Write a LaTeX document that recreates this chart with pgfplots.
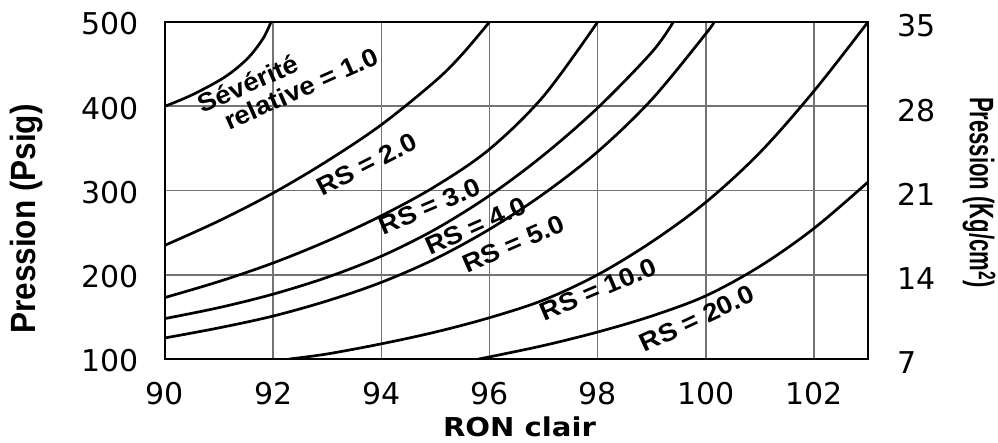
\documentclass[border=0pt]{standalone}
\usepackage{fontspec}
\setmainfont{Liberation Sans}
\newfontfamily\dejavu{DejaVu Sans}
\newfontfamily\ronfont[FakeStretch=1.12]{DejaVu Sans}
\newfontfamily\curvefont[FakeStretch=1.08]{Liberation Sans}
\newfontfamily\labfont[FakeStretch=0.9]{Liberation Sans}
\newfontfamily\rlabfont[FakeStretch=0.65]{Liberation Sans}
\usepackage{pgfplots}
\pgfplotsset{compat=1.18}
\tikzset{lab/.style={font=\curvefont\bfseries\fontsize{25.5}{30}\selectfont, inner sep=0pt},
  curve/.style={black, line width=2.7pt, smooth, tension=0.55, mark=none}}

\pgfplotstableread{
x y
90 400
90.5 413.5
91.1 434.4
91.52 456.3
91.81 480
91.96 500
}\rsone
\pgfplotstableread{
x y
90 235
91 264
92 297
93 335
94 378
95 430
95.5 462
96 500
}\rstwo
\pgfplotstableread{
x y
90 173
91 192
92 214
93 240
94 270
95 305
96 349
97 412
98 500
}\rsthree
\pgfplotstableread{
x y
90 148
91 161
92 177
93 197
94 222
95 254
96 294
97 342
98 398
99 464
99.4 500
}\rsfour
\pgfplotstableread{
x y
90 125
91 137
92 151
93 169
94 191
95 219
96 254
97 296
98 346
99 408
100 486
100.15 500
}\rsfive
\pgfplotstableread{
x y
92.3 100
93 106
94 118
95 132
96 149
97 170
98 200
99 239
100 286
101 345
102 418
103 500
}\rsten
\pgfplotstableread{
x y
95.8 100
96 102.5
97 116
98 132
99 151
100 175
101 210
102 255
103 310
}\rstwenty

\begin{document}
\begin{tikzpicture}
\begin{axis}[
  at={(0pt,0pt)}, anchor=south west,
  scale only axis, width=703pt, height=337pt,
  xmin=90, xmax=103, ymin=100, ymax=500,
  xtick={90,92,...,102}, ytick={100,200,...,500},
  grid=major, major grid style={black!55, line width=1.5pt},
  major tick length=0pt,
  axis line style={line width=1.8pt},
  /pgf/number format/assume math mode=true,
  tick label style={font=\dejavu\fontsize{30}{30}\selectfont, inner sep=0pt},
  yticklabel style={anchor=east, xshift=-26pt, yshift=-2pt},
  xticklabel style={anchor=north, yshift=-23pt},
]
\addplot[curve] table {\rsone};
\addplot[curve] table {\rstwo};
\addplot[curve] table {\rsthree};
\addplot[curve] table {\rsfour};
\addplot[curve] table {\rsfive};
\addplot[curve] table {\rsten};
\addplot[curve] table {\rstwenty};
\node[lab, rotate=24] at (axis cs:91.53,427) {Sévérité};
\node[lab, rotate=24] at (axis cs:92.52,421) {relative = 1.0};
\node[lab, rotate=27] at (axis cs:93.73,331) {RS = 2.0};
\node[lab, rotate=23] at (axis cs:94.90,281) {RS = 3.0};
\node[lab, rotate=24] at (axis cs:95.75,258) {RS = 4.0};
\node[lab, rotate=23.5] at (axis cs:96.44,236.5) {RS = 5.0};
\node[lab, rotate=23] at (axis cs:98.01,182.5) {RS = 10.0};
\node[lab, rotate=25] at (axis cs:99.84,148) {RS = 20.0};
\end{axis}
\begin{axis}[
  at={(0pt,0pt)}, anchor=south west,
  scale only axis, width=703pt, height=337pt,
  xmin=90, xmax=103, ymin=7, ymax=35,
  ytick={7,14,21,28,35},
  axis y line*=right, hide x axis,
  y axis line style={draw=none},
  major tick length=0pt,
  /pgf/number format/assume math mode=true,
  tick label style={font=\dejavu\fontsize{30}{30}\selectfont, inner sep=0pt},
  yticklabel style={anchor=west, xshift=29pt, yshift=-4pt},
]
\end{axis}
\node[rotate=90, font=\labfont\bfseries\fontsize{35}{35}\selectfont] at (-138pt,140pt) {Pression (Psig)};
\node[rotate=-90, font=\rlabfont\bfseries\fontsize{34}{34}\selectfont] at (814pt,166.5pt) {Pression (Kg/cm\textsuperscript{2})};
\node[anchor=base, font=\ronfont\bfseries\fontsize{26}{26}\selectfont, inner sep=0pt, text depth=0pt] at (354.5pt,-77pt) {RON clair};
\pgfresetboundingbox
\path[use as bounding box] (-165pt,-83pt) rectangle (833pt,359pt);
\end{tikzpicture}
\end{document}
